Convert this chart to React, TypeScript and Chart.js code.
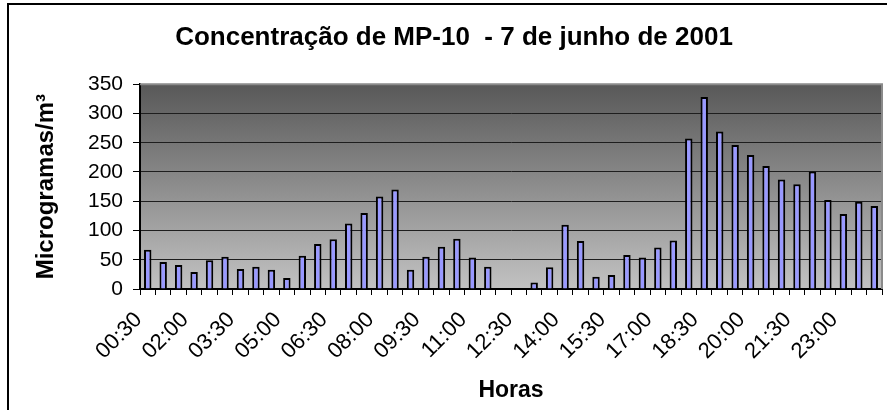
import React, { useEffect, useRef } from "react";
import { Chart, registerables } from "chart.js";

Chart.register(...registerables);

const titleText = "Concentração de MP-10  - 7 de junho de 2001";
const yAxisTitle = "Microgramas/m³";
const xAxisTitle = "Horas";

const hours: string[] = [
  "00:30", "01:00", "01:30", "02:00", "02:30", "03:00", "03:30", "04:00",
  "04:30", "05:00", "05:30", "06:00", "06:30", "07:00", "07:30", "08:00",
  "08:30", "09:00", "09:30", "10:00", "10:30", "11:00", "11:30", "12:00",
  "12:30", "13:00", "13:30", "14:00", "14:30", "15:00", "15:30", "16:00",
  "16:30", "17:00", "17:30", "18:00", "18:30", "19:00", "19:30", "20:00",
  "20:30", "21:00", "21:30", "22:00", "22:30", "23:00", "23:30", "24:00",
];

const mp10: (number | null)[] = [
  67, 46, 41, 29, 49, 55, 34, 38, 33, 19, 57, 77,
  85, 112, 130, 158, 170, 33, 55, 72, 86, 54, 38, null,
  null, 11, 37, 110, 82, 21, 24, 58, 54, 71, 83, 257,
  328, 269, 246, 229, 210, 187, 179, 201, 152, 128, 149, 142,
];

const yTicks: number[] = [0, 50, 100, 150, 200, 250, 300, 350];

const FONT = "'Liberation Sans', Arial, Helvetica, sans-serif";

const decorPlugin = {
  id: "decor",
  beforeDraw(chart: any) {
    const { ctx, chartArea, width, height } = chart;
    ctx.save();
    ctx.fillStyle = "#ffffff";
    ctx.fillRect(0, 0, width, height);
    ctx.strokeStyle = "#000";
    ctx.lineWidth = 2;
    ctx.beginPath();
    ctx.moveTo(8, height + 2);
    ctx.lineTo(8, 4);
    ctx.lineTo(width + 2, 4);
    ctx.stroke();
    const g = ctx.createLinearGradient(0, chartArea.top, 0, chartArea.bottom);
    g.addColorStop(0, "#585858");
    g.addColorStop(1, "#c2c2c2");
    ctx.fillStyle = g;
    ctx.fillRect(chartArea.left, chartArea.top, chartArea.right - chartArea.left, chartArea.bottom - chartArea.top);
    ctx.restore();
  },
  beforeDatasetsDraw(chart: any) {
    const { ctx, chartArea } = chart;
    ctx.save();
    ctx.strokeStyle = "#8a8a8a";
    ctx.lineWidth = 2;
    ctx.beginPath();
    ctx.moveTo(chartArea.left, chartArea.top);
    ctx.lineTo(chartArea.right, chartArea.top);
    ctx.lineTo(chartArea.right, chartArea.bottom);
    ctx.stroke();
    ctx.restore();
  },
};

export default function App() {
  const ref = useRef<HTMLCanvasElement | null>(null);
  useEffect(() => {
    if (!ref.current) return;
    Chart.defaults.color = "#000";
    const chart = new Chart(ref.current, {
      type: "bar",
      data: {
        labels: hours,
        datasets: [
          {
            label: "MP-10",
            data: mp10,
            backgroundColor: "#9999ff",
            borderColor: "#000000",
            borderWidth: 2,
            barPercentage: 0.48,
            categoryPercentage: 1,
          },
        ],
      },
      options: {
        responsive: false,
        animation: false,
        devicePixelRatio: 1,
        layout: { padding: { left: 26, right: 5, top: 0, bottom: 0 } },
        plugins: {
          legend: { display: false },
          tooltip: { enabled: false },
          title: {
            display: true,
            text: titleText,
            color: "#000",
            font: { family: FONT, size: 26, weight: "bold" },
            padding: { top: 22, bottom: 31 },
          },
        },
        scales: {
          x: {
            offset: true,
            grid: {
              offset: true,
              drawOnChartArea: false,
              drawTicks: true,
              tickLength: 6,
              tickColor: "#000",
              tickWidth: 1,
            },
            border: { display: true, color: "#000", width: 2 },
            ticks: {
              autoSkip: false,
              maxRotation: 45,
              minRotation: 45,
              padding: 12,
              labelOffset: -9,
              color: "#000",
              font: { family: FONT, size: 22 },
              callback: (_v: any, i: number) => (i % 3 === 0 ? hours[i] : ""),
            },
            title: {
              display: true,
              text: xAxisTitle,
              color: "#000",
              font: { family: FONT, size: 23, weight: "bold" },
              padding: { top: 0, bottom: 6 },
            },
            afterFit: (s: any) => {
              s.height = 121;
              s.paddingRight = 0;
              s.paddingLeft = 0;
            },
          },
          y: {
            min: 0,
            max: 350,
            afterBuildTicks: (s: any) => {
              s.ticks = yTicks.map((v) => ({ value: v }));
            },
            grid: {
              color: (c: any) => (c.tick && c.tick.value === 350 ? "rgba(0,0,0,0)" : "#1e1e1e"),
              lineWidth: 1,
              drawTicks: true,
              tickLength: 7,
              tickColor: "#000",
              tickWidth: 1,
            },
            border: { display: true, color: "#000", width: 2 },
            ticks: {
              padding: 10,
              color: "#000",
              font: { family: FONT, size: 21 },
            },
            title: {
              display: true,
              text: yAxisTitle,
              color: "#000",
              font: { family: FONT, size: 24, weight: "bold" },
              padding: { top: 6, bottom: 0 },
            },
            afterFit: (s: any) => {
              s.width = 114;
            },
          },
        },
      },
      plugins: [decorPlugin],
    });
    return () => chart.destroy();
  }, []);
  return (
    <div style={{ position: "absolute", left: 0, top: 0, width: 887, height: 410 }}>
      <canvas ref={ref} width={887} height={410} style={{ display: "block" }} />
    </div>
  );
}
